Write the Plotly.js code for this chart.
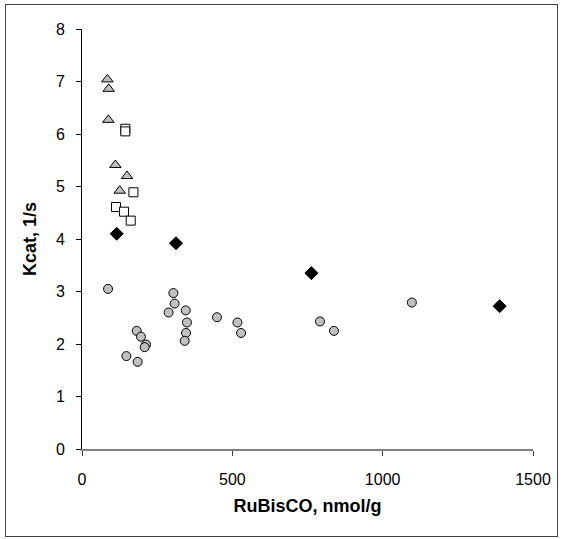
<!DOCTYPE html>
<html><head><meta charset="utf-8">
<script src="https://cdn.plot.ly/plotly-3.0.1.min.js"></script>
<style>
body{margin:0;padding:0;background:#fff;}
#wrap{position:relative;width:563px;height:539px;}
#chart{width:563px;height:539px;}
#frame{position:absolute;left:5px;top:4px;width:551px;height:531px;border:1px solid #404040;pointer-events:none;}
</style></head>
<body>
<div id="wrap"><div id="chart"></div><div id="frame"></div></div>
<script>
// Series: circles (grey)
const circX = [86.6, 182, 196, 213, 208.5, 147.6, 185, 304, 308, 288, 345, 349, 346, 341.5, 449, 517, 529, 791.5, 838, 1097];
const circY = [3.05, 2.25, 2.14, 1.99, 1.94, 1.77, 1.66, 2.97, 2.77, 2.60, 2.64, 2.41, 2.21, 2.06, 2.51, 2.41, 2.21, 2.43, 2.25, 2.79];
// triangles (grey)
const triX = [84.5, 88.8, 87.7, 111, 149.7, 125.4];
const triY = [7.04, 6.86, 6.27, 5.41, 5.20, 4.92];
// squares (white)
const sqX = [144, 144, 171, 113, 139.7, 162];
const sqY = [6.10, 6.05, 4.89, 4.61, 4.52, 4.35];
// diamonds (black)
const diaX = [115.4, 312.6, 763, 1389];
const diaY = [4.10, 3.92, 3.35, 2.72];

const xTicks = [0, 500, 1000, 1500];
const yTicks = [0, 1, 2, 3, 4, 5, 6, 7, 8];

const traces = [
  {x: circX, y: circY, type: 'scatter', mode: 'markers',
   marker: {symbol: 'circle', size: 9, color: '#c0c0c0', line: {color: '#000', width: 1}}},
  {x: triX, y: triY, type: 'scatter', mode: 'markers',
   marker: {symbol: 'triangle-up', size: 10, color: '#c0c0c0', line: {color: '#000', width: 1}}},
  {x: sqX, y: sqY, type: 'scatter', mode: 'markers',
   marker: {symbol: 'square', size: 9, color: '#fff', line: {color: '#000', width: 1}}},
  {x: diaX, y: diaY, type: 'scatter', mode: 'markers',
   marker: {symbol: 'diamond', size: 10, color: '#000', line: {color: '#000', width: 1}}}
];

const layout = {
  width: 563, height: 539,
  margin: {l: 82, r: 30, t: 29, b: 90},
  showlegend: false,
  paper_bgcolor: '#fff', plot_bgcolor: '#fff',
  font: {family: 'Arial, Liberation Sans, sans-serif', size: 16, color: '#000'},
  xaxis: {
    range: [0, 1500], tickvals: xTicks, ticktext: xTicks.map(String),
    showgrid: false, zeroline: false, showline: true, linecolor: '#808080', linewidth: 1.5,
    ticks: 'outside', ticklen: 5, tickcolor: '#404040', tickwidth: 1,
    ticklabelstandoff: 10,
    title: {text: '<b>RuBisCO, nmol/g</b>', font: {size: 18}, standoff: 12}
  },
  yaxis: {
    range: [0, 8], tickvals: yTicks, ticktext: yTicks.map(String),
    showgrid: false, zeroline: false, showline: true, linecolor: '#000', linewidth: 1,
    ticks: 'outside', ticklen: 5, tickcolor: '#000', tickwidth: 1,
    ticklabelstandoff: 8,
    title: {text: '<b>Kcat, 1/s</b>', font: {size: 18}, standoff: 14}
  }
};

Plotly.newPlot('chart', traces, layout, {displayModeBar: false, staticPlot: true});
</script>
</body></html>
